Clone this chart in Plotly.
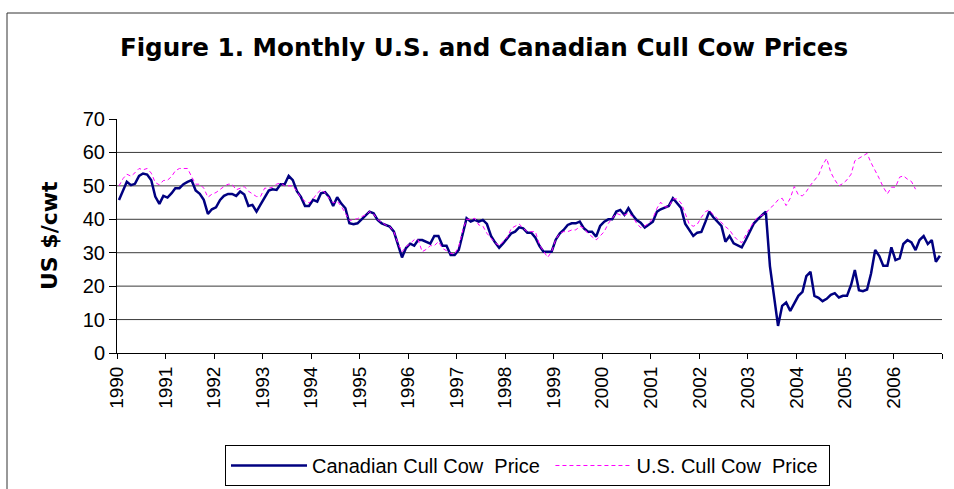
import plotly.graph_objects as go

# ---------------- data ----------------
start_year = 1990
canadian_price = [
    45.8, 48.5, 51.2, 50.2, 50.6, 53.0, 53.7, 53.4, 51.7, 46.8, 44.6, 47.0,   # 1990
    46.5, 47.8, 49.3, 49.3, 50.5, 51.2, 51.7, 48.6, 47.6, 45.8, 41.6, 43.0,   # 1991
    43.6, 45.8, 47.0, 47.6, 47.6, 47.0, 48.3, 47.4, 44.0, 44.3, 42.3, 44.4,   # 1992
    46.3, 48.6, 49.0, 48.8, 50.5, 50.5, 53.0, 51.7, 48.4, 46.7, 44.0, 44.0,   # 1993
    45.8, 45.3, 47.8, 48.1, 46.7, 44.0, 46.6, 44.7, 43.3, 38.8, 38.5, 38.8,   # 1994
    40.0, 41.3, 42.3, 41.8, 39.8, 38.8, 38.2, 37.8, 36.3, 32.3, 28.6, 31.4,   # 1995
    32.7, 32.1, 33.8, 33.8, 33.3, 32.7, 35.0, 35.0, 32.1, 32.1, 29.3, 29.3,   # 1996
    30.8, 35.8, 40.3, 39.3, 39.8, 39.3, 39.8, 38.6, 35.0, 33.1, 31.5, 32.8,   # 1997
    34.3, 35.8, 36.3, 37.6, 37.3, 36.0, 36.0, 34.5, 32.0, 30.3, 30.3, 30.3,   # 1998
    33.9, 35.8, 36.8, 38.3, 38.8, 38.8, 39.3, 37.3, 36.3, 36.3, 34.8, 38.0,   # 1999
    39.3, 40.0, 40.0, 42.3, 42.8, 41.3, 43.3, 41.3, 39.8, 39.0, 37.5, 38.3,   # 2000
    39.3, 42.3, 43.0, 43.5, 44.0, 46.3, 45.0, 43.4, 38.7, 36.8, 35.0, 36.0,   # 2001
    36.2, 39.3, 42.3, 40.6, 39.3, 38.0, 33.3, 35.0, 32.8, 32.1, 31.6, 33.8,   # 2002
    36.5, 38.8, 40.0, 41.3, 42.3, 26.0, 17.9, 8.1, 14.1, 15.1, 12.6, 14.6,    # 2003
    17.1, 18.3, 23.0, 24.3, 17.1, 16.5, 15.5, 16.2, 17.4, 17.9, 16.6, 17.1,   # 2004
    17.1, 20.4, 24.8, 18.8, 18.5, 19.0, 23.8, 30.8, 29.0, 26.1, 26.1, 31.6,   # 2005
    27.8, 28.3, 32.6, 33.8, 33.1, 30.8, 33.8, 35.0, 32.6, 33.8, 27.3, 29.1,   # 2006
]
us_price = [
    50.0, 52.2, 53.5, 52.9, 53.9, 55.2, 54.8, 55.2, 53.8, 51.0, 50.3, 51.6,   # 1990
    51.7, 52.8, 54.5, 55.2, 55.2, 55.2, 52.8, 50.5, 50.5, 49.3, 46.6, 47.5,   # 1991
    48.0, 49.0, 49.8, 50.5, 50.5, 48.8, 49.3, 49.8, 48.4, 47.6, 46.8, 46.8,   # 1992
    49.3, 49.3, 49.6, 50.5, 50.9, 50.0, 50.0, 50.0, 48.4, 46.5, 45.4, 44.9,   # 1993
    46.1, 47.8, 48.8, 48.0, 46.3, 44.9, 45.4, 43.9, 41.8, 39.6, 39.9, 40.2,   # 1994
    40.8, 41.3, 42.3, 41.6, 39.9, 39.0, 38.3, 37.8, 36.3, 32.8, 30.3, 31.8,   # 1995
    32.7, 33.9, 33.9, 30.3, 31.0, 32.1, 32.1, 33.3, 31.3, 30.6, 29.8, 29.6,   # 1996
    31.8, 36.8, 40.0, 40.0, 40.3, 38.3, 38.0, 35.8, 34.5, 33.0, 32.1, 33.3,   # 1997
    34.6, 37.3, 38.0, 38.6, 37.3, 36.3, 36.3, 36.3, 32.3, 30.3, 28.6, 30.3,   # 1998
    34.0, 35.8, 36.3, 36.3, 36.8, 36.8, 38.0, 37.3, 35.8, 34.8, 33.8, 35.0,   # 1999
    36.3, 38.8, 40.3, 41.8, 41.3, 41.3, 41.8, 40.8, 38.8, 37.5, 38.0, 38.8,   # 2000
    40.3, 43.3, 45.1, 43.7, 43.7, 46.1, 46.1, 44.9, 41.8, 38.6, 37.9, 38.5,   # 2001
    40.6, 42.3, 42.8, 41.3, 40.3, 39.0, 37.8, 36.8, 35.0, 33.8, 33.0, 35.3,   # 2002
    37.3, 39.3, 40.6, 41.3, 41.8, 43.3, 44.3, 45.8, 46.3, 44.1, 46.3, 49.8,   # 2003
    47.3, 47.0, 48.3, 50.2, 51.7, 53.2, 56.2, 58.2, 54.0, 51.8, 50.0, 50.7,   # 2004
    51.8, 53.5, 57.5, 58.2, 58.9, 59.7, 56.9, 54.7, 52.2, 49.6, 47.6, 49.6,   # 2005
    49.6, 52.6, 53.0, 52.0, 51.3, 49.0,                                       # 2006 (Jan-Jun)
]
year_ticks = list(range(1990, 2008))
year_labels = [str(y) for y in range(1990, 2007)] + [""]
y_ticks = [0, 10, 20, 30, 40, 50, 60, 70]
grid_values = [10, 20, 30, 40, 50, 60]

# monthly dates (mid-month so the points sit in the middle of each month)
months = [f"{start_year + i // 12}-{i % 12 + 1:02d}-16" for i in range(len(canadian_price))]

FONT = "Liberation Sans, Arial, Helvetica, sans-serif"
TITLE_FONT = "DejaVu Sans, Liberation Sans, Arial, sans-serif"
W, H = 954, 489
ML, MR, MT, MB = 117, 12, 119, 136
PW, PH = W - ML - MR, H - MT - MB


def px_x(px):
    return (px - ML) / PW


def px_y(py):
    return (H - MB - py) / PH


fig = go.Figure()
fig.add_trace(go.Scatter(
    x=months, y=canadian_price, mode="lines",
    name="Canadian Cull Cow\u00a0 Price\u00a0",
    line=dict(color="#000080", width=2.5),
))
fig.add_trace(go.Scatter(
    x=months[:len(us_price)], y=us_price, mode="lines",
    name="U.S. Cull Cow\u00a0 Price\u00a0",
    line=dict(color="#FF00FF", width=1, dash="4px,3px"),
))

shapes = []
for g in grid_values:
    shapes.append(dict(type="line", xref="paper", yref="y", x0=0, x1=1, y0=g, y1=g,
                       line=dict(color="#3a3a3a", width=1), layer="below"))
# chart-area frame (left and top edges visible in the reference)
shapes.append(dict(type="line", xref="paper", yref="paper",
                   x0=px_x(7), x1=px_x(7), y0=px_y(489), y1=px_y(13),
                   line=dict(color="#333333", width=1)))
shapes.append(dict(type="line", xref="paper", yref="paper",
                   x0=px_x(7), x1=px_x(954), y0=px_y(13), y1=px_y(13),
                   line=dict(color="#333333", width=1)))

fig.update_layout(
    width=W, height=H,
    margin=dict(l=ML, r=MR, t=MT, b=MB, pad=0, autoexpand=False),
    paper_bgcolor="white", plot_bgcolor="white",
    font=dict(family=FONT, color="black", size=19),
    title=dict(text="<b>Figure 1. Monthly U.S. and Canadian Cull Cow Prices</b>",
               x=484 / W, xanchor="center", y=1 - 47 / H, yanchor="middle",
               font=dict(family=TITLE_FONT, size=24.6, color="black")),
    xaxis=dict(type="date", range=["1990-01-01", "2007-01-01"],
               tickvals=[f"{y}-01-01" for y in year_ticks], ticktext=year_labels,
               tickangle=-90, ticks="outside", ticklen=5, tickcolor="black",
               showline=True, linecolor="black", linewidth=1,
               showgrid=False, zeroline=False,
               tickfont=dict(family=FONT, size=19, color="black")),
    yaxis=dict(range=[0, 70], tickvals=y_ticks, ticks="outside", ticklen=7,
               tickcolor="black", showline=True, linecolor="black", linewidth=1,
               showgrid=False, zeroline=False,
               tickfont=dict(family=FONT, size=20, color="black")),
    showlegend=True,
    legend=dict(orientation="h", x=px_x(225), y=px_y(445), xanchor="left", yanchor="top",
                bordercolor="black", borderwidth=1, bgcolor="white",
                font=dict(family=FONT, size=20, color="black"),
                itemwidth=76, entrywidth=0, tracegroupgap=0),
    shapes=shapes,
    annotations=[dict(text="<b>US $/cwt</b>", xref="paper", yref="paper",
                      x=px_x(49), y=px_y(236), textangle=-90, showarrow=False,
                      xanchor="center", yanchor="middle",
                      font=dict(family=TITLE_FONT, size=22, color="black"))],
)

fig.write_html("out.html", config={"displayModeBar": False},
               post_script="document.body.style.margin='0';")
